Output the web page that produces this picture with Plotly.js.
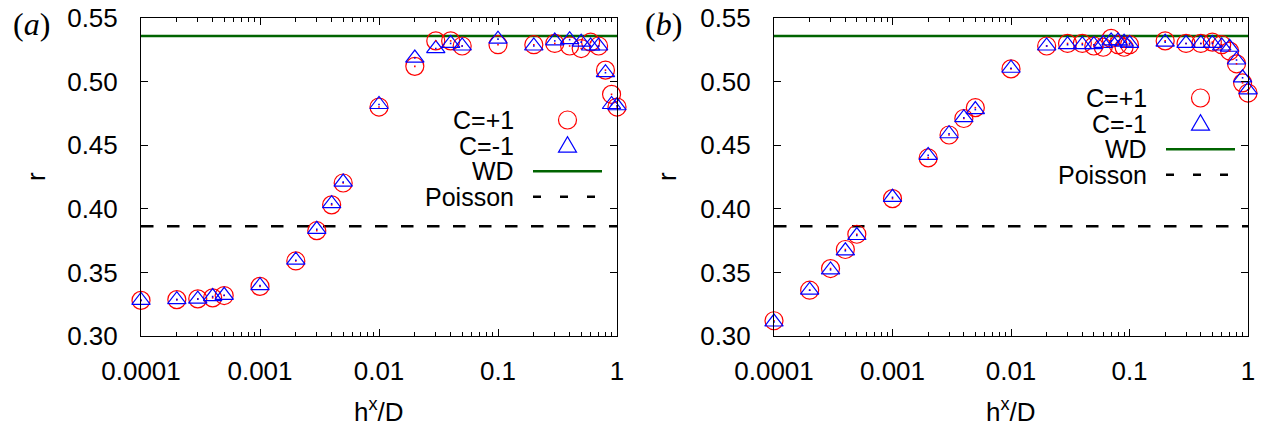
<!DOCTYPE html>
<html>
<head>
<meta charset="utf-8">
<script src="https://cdn.plot.ly/plotly-3.0.1.min.js"></script>
<style>html,body{margin:0;padding:0;background:#fff;}#chart{width:1281px;height:432px;}</style>
</head>
<body>
<div id="chart"></div>
<script>
// ---- data ----
const xA = [0.0001,0.0002,0.0003,0.0004,0.0005,0.001,0.002,0.003,0.004,0.005,0.01,0.02,0.03,0.04,0.05,0.1,0.2,0.3,0.4,0.5,0.6,0.7,0.8,0.9,1.0];
const rAplus  = [0.328,0.3286,0.3292,0.330,0.3318,0.339,0.359,0.3828,0.4031,0.4203,0.480,0.512,0.532,0.532,0.528,0.529,0.529,0.530,0.528,0.526,0.531,0.528,0.509,0.490,0.480];
const rAminus = [0.328,0.3286,0.329,0.331,0.332,0.3396,0.3596,0.3839,0.404,0.421,0.482,0.5185,0.526,0.530,0.528,0.5334,0.528,0.532,0.533,0.531,0.528,0.528,0.507,0.482,0.481];

const xB = [0.0001,0.0002,0.0003,0.0004,0.0005,0.001,0.002,0.003,0.004,0.005,0.01,0.02,0.03,0.04,0.05,0.06,0.07,0.08,0.09,0.1,0.2,0.3,0.4,0.5,0.6,0.7,0.8,0.9,1.0];
const rBplus  = [0.312,0.336,0.353,0.368,0.380,0.408,0.440,0.458,0.471,0.4795,0.510,0.528,0.530,0.530,0.528,0.527,0.534,0.529,0.527,0.529,0.532,0.530,0.530,0.531,0.529,0.524,0.514,0.499,0.491];
const rBminus = [0.311,0.336,0.352,0.367,0.379,0.409,0.442,0.459,0.4716,0.478,0.5105,0.528,0.529,0.529,0.529,0.530,0.532,0.532,0.531,0.530,0.531,0.530,0.530,0.530,0.528,0.527,0.517,0.503,0.4935];

const rWD = 0.5359;
const rPoisson = 0.3863;
const xLimits = [0.0001, 1];

const xTickVals = [0.0001, 0.001, 0.01, 0.1, 1];
const xTickText = ['0.0001', '0.001', '0.01', '0.1', '1'];
const yTickVals = [0.30, 0.35, 0.40, 0.45, 0.50, 0.55];
const seriesNames = ['C=+1', 'C=-1', 'WD', 'Poisson'];
const panelLabels = ['a', 'b'];

// ---- styles ----
const RED = '#ff0000', BLUE = '#0000ff', GREEN = '#006400';
const FONT = 'Liberation Sans, Arial, sans-serif';

const minorVals = [];
for (let e = -4; e < 0; e++) for (let d = 2; d <= 9; d++) minorVals.push(d * Math.pow(10, e));

function panelTraces(x, yp, ym, xa, ya) {
  return [
    {x: xLimits, y: [rWD, rWD], xaxis: xa, yaxis: ya, mode: 'lines', line: {color: GREEN, width: 2.6}, showlegend: false, cliponaxis: false, hoverinfo: 'skip'},
    {x: xLimits, y: [rPoisson, rPoisson], xaxis: xa, yaxis: ya, mode: 'lines', line: {color: '#000', width: 2.6, dash: '12.5px,13.5px'}, showlegend: false, cliponaxis: false, hoverinfo: 'skip'},
    {x: x, y: yp, xaxis: xa, yaxis: ya, mode: 'markers', name: seriesNames[0], marker: {symbol: 'circle-open', size: 18, color: RED, line: {width: 1.2, color: RED}}, showlegend: false, cliponaxis: false},
    {x: x, y: ym, xaxis: xa, yaxis: ya, mode: 'markers', name: seriesNames[1], marker: {symbol: 'triangle-up-open', size: 16, color: BLUE, line: {width: 1.2, color: BLUE}}, showlegend: false, cliponaxis: false},
    {x: x, y: yp, xaxis: xa, yaxis: ya, mode: 'markers', marker: {symbol: 'square', size: 1.6, color: RED}, showlegend: false, cliponaxis: false, hoverinfo: 'skip'},
    {x: x, y: ym, xaxis: xa, yaxis: ya, mode: 'markers', marker: {symbol: 'square', size: 1.6, color: BLUE}, showlegend: false, cliponaxis: false, hoverinfo: 'skip'}
  ];
}

const data = [].concat(
  panelTraces(xA, rAplus, rAminus, 'x', 'y'),
  panelTraces(xB, rBplus, rBminus, 'x2', 'y2')
);

function xAxis(domain, anchor) {
  return {
    type: 'log', domain: domain, anchor: anchor, range: [-4, 0],
    tickmode: 'array', tickvals: xTickVals, ticktext: xTickText,
    ticks: 'inside', ticklen: 7, tickwidth: 1, tickcolor: '#000',
    minor: {tickmode: 'array', tickvals: minorVals, ticks: 'inside', ticklen: 4, tickwidth: 1, tickcolor: '#000', showgrid: false},
    showline: true, linecolor: '#000', linewidth: 1, mirror: 'ticks',
    showgrid: false, zeroline: false,
    tickfont: {family: FONT, size: 26, color: '#000'},
    ticklabelstandoff: 12
  };
}
function yAxis(anchor) {
  return {
    domain: [0, 1], anchor: anchor, range: [0.30, 0.55],
    tickmode: 'array', tickvals: yTickVals, tickformat: '.2f',
    ticks: 'inside', ticklen: 7, tickwidth: 1, tickcolor: '#000',
    showline: true, linecolor: '#000', linewidth: 1, mirror: 'ticks',
    showgrid: false, zeroline: false,
    tickfont: {family: FONT, size: 26, color: '#000'},
    ticklabelstandoff: 17
  };
}

const W = 1281, H = 432;
const mT = 18, mB = 96;
const plotH = H - mT - mB;
const domA = [141 / W, 617 / W];
const domB = [774 / W, 1248 / W];

// helpers for legend placement (paper coords)
const px = v => v / W;
const py = v => 1 - (v - mT) / plotH;

const annotations = [];
const shapes = [];

function addPanelDecor(dom, label, legendRight, legendTop, titleX, rX) {
  // panel label
  annotations.push({xref: 'paper', yref: 'paper', x: px(label.x), y: py(label.y), text: '(<i>' + label.t + '</i>)', showarrow: false, xanchor: 'center', yanchor: 'middle', font: {family: 'Liberation Serif, DejaVu Serif, serif', size: 32, color: '#000'}});
  // axis titles
  annotations.push({xref: 'paper', yref: 'paper', x: px(titleX), y: py(410), text: 'h<sup>x</sup>/D', showarrow: false, xanchor: 'center', yanchor: 'middle', font: {family: FONT, size: 26, color: '#000'}});
  annotations.push({xref: 'paper', yref: 'paper', x: px(rX), y: py(177), text: 'r', textangle: -90, showarrow: false, xanchor: 'center', yanchor: 'middle', font: {family: FONT, size: 26, color: '#000'}});
  // legend
  const rowH = 25.6;
  const sx0 = legendRight + 18, sx1 = legendRight + 87, sc = (sx0 + sx1) / 2;
  seriesNames.forEach((nm, i) => {
    const yy = legendTop + i * rowH;
    annotations.push({xref: 'paper', yref: 'paper', x: px(legendRight), y: py(yy), text: nm, showarrow: false, xanchor: 'right', yanchor: 'middle', height: 24, valign: 'middle', borderpad: 0, font: {family: FONT, size: 25, color: '#000'}});
    if (i === 0) {
      shapes.push({type: 'circle', xref: 'paper', yref: 'paper', x0: px(sc - 9), x1: px(sc + 9), y0: py(yy - 9), y1: py(yy + 9), line: {color: RED, width: 1.2}});
    } else if (i === 1) {
      const pts = [[sc - 9, yy + 6.5], [sc + 9, yy + 6.5], [sc, yy - 9]];
      const path = 'M' + pts.map(p => px(p[0]) + ',' + py(p[1])).join(' L') + ' Z';
      shapes.push({type: 'path', xref: 'paper', yref: 'paper', path: path, line: {color: BLUE, width: 1.2}});
    } else if (i === 2) {
      shapes.push({type: 'line', xref: 'paper', yref: 'paper', x0: px(sx0), x1: px(sx1), y0: py(yy), y1: py(yy), line: {color: GREEN, width: 2.6}});
    } else {
      shapes.push({type: 'line', xref: 'paper', yref: 'paper', x0: px(sx0), x1: px(sx1 - 6), y0: py(yy), y1: py(yy), line: {color: '#000', width: 2.6, dash: '8px,19px'}});
    }
  });
}

addPanelDecor(domA, {x: 31, y: 24, t: panelLabels[0]}, 515, 120, 379, 36);
addPanelDecor(domB, {x: 663, y: 24, t: panelLabels[1]}, 1148, 98, 1011, 667);

const layout = {
  width: W, height: H,
  margin: {l: 0, r: 0, t: mT, b: mB, pad: 0},
  paper_bgcolor: '#fff', plot_bgcolor: '#fff',
  showlegend: false,
  xaxis: xAxis(domA, 'y'),
  yaxis: yAxis('x'),
  xaxis2: xAxis(domB, 'y2'),
  yaxis2: yAxis('x2'),
  annotations: annotations,
  shapes: shapes
};

Plotly.newPlot('chart', data, layout, {displayModeBar: false, staticPlot: true});
</script>
</body>
</html>
